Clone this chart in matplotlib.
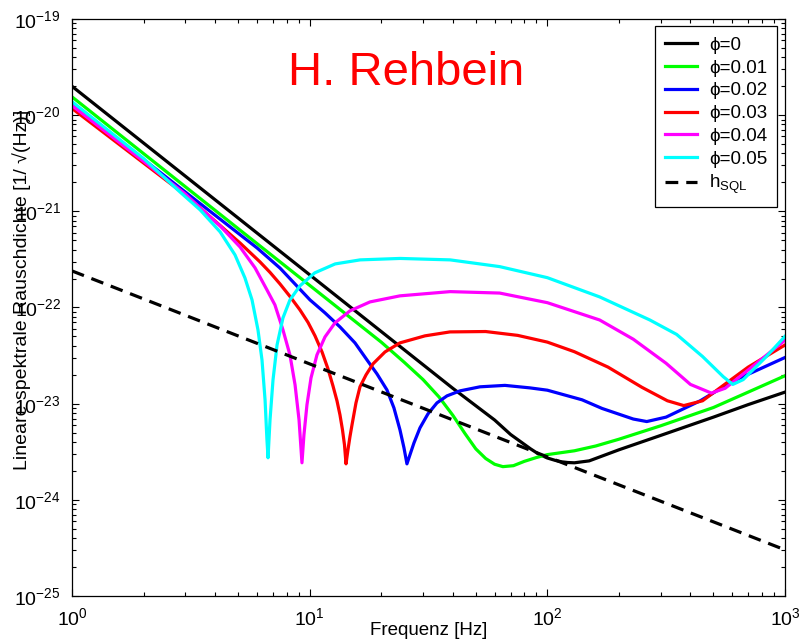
import numpy as np
import matplotlib.pyplot as plt
from matplotlib.ticker import LogLocator, NullFormatter

plt.rcParams['font.family'] = ['Liberation Sans', 'DejaVu Sans']
plt.rcParams['mathtext.fontset'] = 'custom'
plt.rcParams['mathtext.rm'] = 'Liberation Sans'
plt.rcParams['mathtext.it'] = 'Liberation Sans:italic'

f_phi0 = [1, 3, 10, 20, 40, 60, 70, 85, 92, 100, 108, 115, 122, 130, 150, 200, 300,
          500, 700, 1000]
h_phi0 = [-19.70, -20.635, -21.66, -22.25, -22.84, -23.17, -23.32, -23.47, -23.525,
          -23.565, -23.59, -23.605, -23.612, -23.615, -23.595, -23.48, -23.33,
          -23.14, -23.01, -22.88]

f_phi1 = [1, 3, 10, 20, 25, 30, 35, 40, 45, 50, 55, 60, 65, 72, 80, 90, 100, 130,
          160, 200, 300, 500, 700, 1000]
h_phi1 = [-19.81, -20.745, -21.77, -22.36, -22.57, -22.75, -22.93, -23.12, -23.31,
          -23.47, -23.57, -23.63, -23.655, -23.645, -23.60, -23.56, -23.53, -23.49,
          -23.44, -23.37, -23.23, -23.04, -22.88, -22.71]

f_phi2 = [1, 3, 6, 7.5, 10.03, 11.6, 13.41, 15.51, 17.42, 19.19, 21.14, 22.62, 23.98,
          24.93, 25.66, 26.42, 27.47, 29.11, 31.46, 34.32, 37.83, 42.89, 52.04, 66.31,
          84.5, 100, 140, 170, 230, 262, 316, 440, 600, 1000]
h_phi2 = [-19.88, -20.80, -21.38, -21.59, -21.921, -22.056, -22.202, -22.368, -22.545,
          -22.690, -22.857, -23.044, -23.272, -23.459, -23.626, -23.532, -23.408,
          -23.252, -23.106, -22.992, -22.919, -22.867, -22.825, -22.810, -22.836,
          -22.86, -22.96, -23.05, -23.16, -23.186, -23.14, -22.97, -22.77, -22.52]

f_phi3 = [1, 3, 5.09, 6.18, 6.81, 7.50, 8.26, 9.10, 9.84, 10.53, 11.27, 11.94, 12.53,
          13.03, 13.41, 13.74, 14.01, 14.22, 14.49, 14.77, 15.07, 15.66, 16.28, 17.26,
          18.47, 20.75, 23.98, 30.55, 38.93, 55, 75, 100, 130, 180, 250, 320, 375, 450,
          550, 700, 1000]
h_phi3 = [-19.93, -20.83, -21.329, -21.526, -21.635, -21.755, -21.885, -22.025,
          -22.155, -22.295, -22.462, -22.638, -22.815, -22.971, -23.116, -23.272,
          -23.428, -23.626, -23.480, -23.345, -23.220, -22.992, -22.825, -22.701,
          -22.586, -22.462, -22.368, -22.295, -22.254, -22.25, -22.29, -22.36, -22.46,
          -22.62, -22.83, -22.97, -23.02, -22.97, -22.81, -22.62, -22.39]

f_phi4 = [1, 3, 3.46, 4.20, 5.09, 5.89, 6.61, 7.14, 7.72, 8.26, 8.68, 9.02, 9.28,
          9.46, 9.74, 10.13, 10.73, 11.60, 12.78, 14.77, 17.94, 23.98, 39, 63, 100,
          166, 230, 316, 400, 490, 560, 700, 1000]
h_phi4 = [-19.90, -20.82, -20.965, -21.152, -21.370, -21.588, -21.817, -21.973,
          -22.233, -22.493, -22.805, -23.168, -23.615, -23.324, -23.012, -22.732,
          -22.493, -22.306, -22.160, -22.035, -21.942, -21.879, -21.835, -21.85,
          -21.95, -22.13, -22.33, -22.58, -22.80, -22.89, -22.84, -22.65, -22.34]

f_phi5 = [1, 2, 2.85, 3.46, 4.20, 4.85, 5.34, 5.72, 6.06, 6.30, 6.49, 6.61, 6.68,
          6.81, 7.01, 7.29, 7.72, 8.26, 9.10, 10.5, 12.8, 16.3, 24, 39, 63, 100, 166,
          270, 350, 450, 550, 603, 667, 835, 1000]
h_phi5 = [-19.86, -20.45, -20.80, -20.985, -21.214, -21.453, -21.692, -21.921,
          -22.233, -22.545, -22.96, -23.376, -23.563, -23.168, -22.753, -22.389,
          -22.108, -21.921, -21.775, -21.640, -21.547, -21.505, -21.49, -21.505,
          -21.575, -21.69, -21.89, -22.13, -22.28, -22.51, -22.72, -22.80, -22.75,
          -22.51, -22.30]

f_sql = [1, 1000]
h_sql = [-21.62, -24.52]

kurven = [
    (f_phi0, h_phi0, 'k', '\u03d5=0'),
    (f_phi1, h_phi1, '#00ff00', '\u03d5=0.01'),
    (f_phi2, h_phi2, '#0000ff', '\u03d5=0.02'),
    (f_phi3, h_phi3, '#ff0000', '\u03d5=0.03'),
    (f_phi4, h_phi4, '#ff00ff', '\u03d5=0.04'),
    (f_phi5, h_phi5, '#00ffff', '\u03d5=0.05'),
]

fig = plt.figure(figsize=(8.02, 6.39), dpi=100)
ax = fig.add_axes([0.0898, 0.0673, 0.889, 0.903])

for f, h, c, lab in kurven:
    ax.plot(f, 10 ** np.array(h), color=c, lw=2.3, label=lab)
ax.plot(f_sql, 10 ** np.array(h_sql), color='k', lw=2.3, dashes=(4, 2.5),
        label=r'h$_\mathregular{SQL}$')

ax.set_xscale('log')
ax.set_yscale('log')
ax.set_xlim(1, 1000)
ax.set_ylim(1e-25, 1e-19)

ax.yaxis.set_minor_locator(LogLocator(base=10, subs=np.arange(2, 10), numticks=100))
ax.xaxis.set_minor_locator(LogLocator(base=10, subs=np.arange(2, 10), numticks=100))
ax.xaxis.set_minor_formatter(NullFormatter())
ax.yaxis.set_minor_formatter(NullFormatter())
ax.tick_params(which='both', direction='in', top=True, right=True, labelsize=14)
ax.tick_params(which='major', length=5, width=0.8, pad=8)
ax.tick_params(which='minor', length=3, width=0.8)
for s in ax.spines.values():
    s.set_linewidth(0.9)

ax.set_xlabel('Frequenz [Hz]', fontsize=13.5)
ax.xaxis.set_label_coords(0.5, -0.045)
ax.set_ylabel('Lineare spektrale Rauschdichte [1/ \u221a(Hz)]', fontsize=14)
ax.yaxis.set_label_coords(-0.058, 0.53)

leg = ax.legend(loc='upper right', fontsize=13.5, frameon=True, fancybox=False,
                edgecolor='k', framealpha=1, handlelength=1.7, labelspacing=0.3,
                borderaxespad=0.4, handletextpad=0.65, borderpad=0.55)
leg.get_frame().set_linewidth(0.9)

fig.text(0.507, 0.867, 'H. Rehbein', color='red', fontsize=34, ha='center',
         va='baseline')

fig.savefig('out.png', dpi=100)
